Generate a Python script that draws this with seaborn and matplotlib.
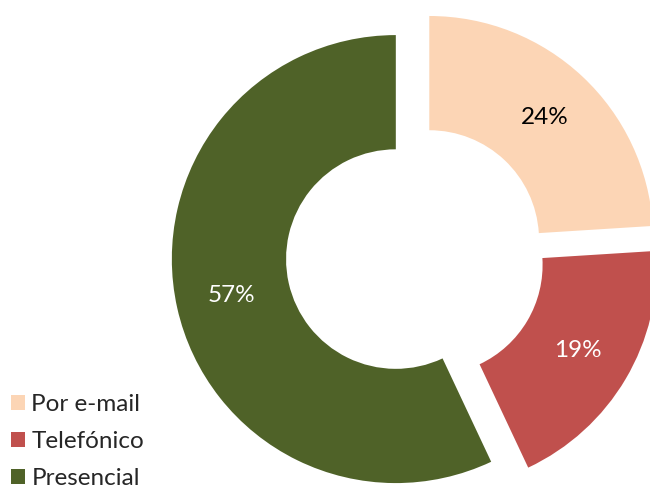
import matplotlib
matplotlib.use("Agg")
import matplotlib.pyplot as plt
from matplotlib.patches import Patch
import seaborn as sns

categories = ["Por e-mail", "Telefónico", "Presencial"]
shares = [24, 19, 57]
colors = ["#FCD5B5", "#C0504D", "#4F6228"]
label_colors = ["black", "white", "white"]

sns.set_theme(style="white")
plt.rcParams['font.family'] = ['Lato', 'DejaVu Sans']

fig = plt.figure(figsize=(6.5, 4.91), dpi=100)
ax = fig.add_axes([0, 0, 1, 1])

# Donut, clockwise from 12 o'clock, every slice pulled out a little
wedges, texts, autotexts = ax.pie(
    shares, colors=colors, startangle=90, counterclock=False,
    explode=[0.09] * len(shares), radius=1.0, pctdistance=0.75,
    autopct=lambda p: "%d%%" % round(p),
    wedgeprops=dict(width=0.51, linewidth=0),
    textprops=dict(fontsize=17.5),
)
for t, c in zip(autotexts, label_colors):
    t.set_color(c)

# place pie center like the reference (data units = outer radius)
ax.set_xlim(-1.855, 1.047)
ax.set_ylim(-1.055, 1.137)
ax.set_aspect("auto")
ax.axis("off")

handles = [Patch(facecolor=c, edgecolor="none") for c in colors]
fig.legend(handles, categories, loc="lower left", bbox_to_anchor=(-0.006, -0.026),
           frameon=False, fontsize=17.5, handlelength=0.6, handleheight=0.6,
           handletextpad=0.25, labelspacing=0.66, borderaxespad=0.2)

fig.savefig("out.png", dpi=100)
plt.close(fig)
